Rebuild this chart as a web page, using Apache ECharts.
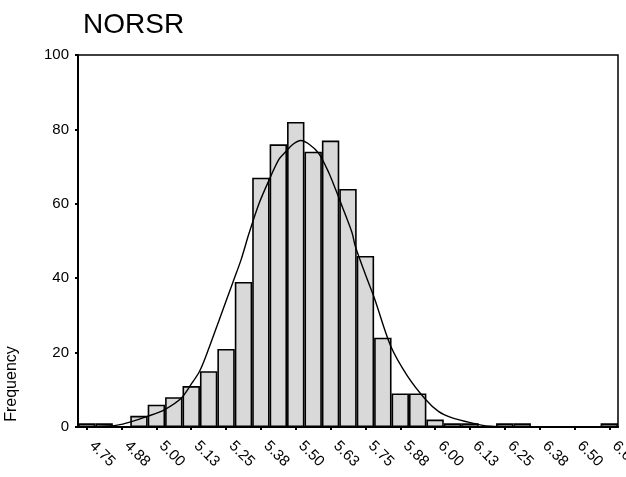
<!DOCTYPE html>
<html>
<head>
<meta charset="utf-8">
<script src="https://cdn.jsdelivr.net/npm/echarts@6/dist/echarts.min.js"></script>
<style>
html,body{margin:0;padding:0;background:#fff;overflow:hidden;}
#chart{width:626px;height:477px;}
</style>
</head>
<body>
<div id="chart"></div>
<script>
// Bin centres (category labels), bin width 0.0625
var binLabels = ['4.75','4.81','4.88','4.94','5.00','5.06','5.13','5.19','5.25','5.31',
                 '5.38','5.44','5.50','5.56','5.63','5.69','5.75','5.81','5.88','5.94',
                 '6.00','6.06','6.13','6.19','6.25','6.31','6.38','6.44','6.50','6.56','6.63'];
// Frequencies per bin
var frequencies = [1,1,0,3,6,8,11,15,21,39,
                   67,76,82,74,77,64,46,24,9,9,
                   2,1,1,0,1,1,0,0,0,0,1];
// Normal curve, points
var curveX = [4.71875,4.80,4.86,4.905,4.97,5.03,5.09,5.125,5.155,5.18,
              5.226,5.274,5.304,5.333,5.369,5.405,5.44,5.464,5.49,5.518,
              5.548,5.583,5.619,5.645,5.666,5.702,5.714,5.75,5.782,5.841,
              5.901,5.966,6.012,6.059,6.119,6.166,6.202,6.26,6.35,6.65625];
var curveY = [0.05,0.15,0.5,1.3,2.9,4.7,7.8,11.5,15,19.5,
              28.9,38.8,45,52.2,60.2,66.5,72,74,76,77,
              76,73.5,68.3,63.5,59.4,52.2,48.5,41,34.7,21.7,
              13.7,7.4,4.2,2.5,1.3,0.5,0.2,0.05,0,0];
var yTicks = [0,20,40,60,80,100];
var xRange = [4.71875, 6.65625];
var titleText = 'NORSR';
var yName = 'Frequency';

var FONT = '"Liberation Sans", Arial, sans-serif';
var curveData = curveX.map(function(x,i){return [x, curveY[i]];});

var chart = echarts.init(document.getElementById('chart'), null, {renderer:'canvas'});
chart.setOption({
  animation:false,
  backgroundColor:'#fff',
  title:{text:titleText,left:78,top:6,textStyle:{fontFamily:FONT,fontSize:28,fontWeight:'normal',color:'#000'}},
  grid:{left:78,right:8,top:55,bottom:50,containLabel:false,outerBoundsMode:'none',show:true,borderColor:'#000',borderWidth:1.5,backgroundColor:'transparent'},
  xAxis:[{
    type:'category',data:binLabels,boundaryGap:true,
    axisLine:{lineStyle:{color:'#000',width:2}},
    axisTick:{show:true,interval:1,alignWithLabel:true,length:3,lineStyle:{color:'#000',width:2}},
    axisLabel:{interval:1,rotate:-45,align:'left',verticalAlign:'bottom',fontFamily:FONT,fontSize:15,color:'#000',margin:22},
    splitLine:{show:false}
  },{
    type:'value',min:xRange[0],max:xRange[1],show:false,splitLine:{show:false}
  }],
  yAxis:{
    type:'value',min:yTicks[0],max:yTicks[yTicks.length-1],interval:20,
    axisLine:{show:true,lineStyle:{color:'#000',width:2}},
    axisTick:{show:true,length:3,lineStyle:{color:'#000',width:2}},
    axisLabel:{fontFamily:FONT,fontSize:15,color:'#000',margin:9},
    splitLine:{show:false}
  },
  graphic:[{type:'text',position:[12,384],rotation:Math.PI/2,
    style:{text:yName,fontFamily:FONT,fontSize:16,fill:'#000',textAlign:'center',textVerticalAlign:'middle'}}],
  series:[{
    type:'bar',data:frequencies,barCategoryGap:'0%',xAxisIndex:0,
    itemStyle:{color:'#d9d9d9',borderColor:'#000',borderWidth:1.6},z:2
  },{
    type:'line',data:curveData,xAxisIndex:1,smooth:0.3,symbol:'none',
    lineStyle:{color:'#000',width:1.4},z:3
  }]
});
</script>
</body>
</html>
